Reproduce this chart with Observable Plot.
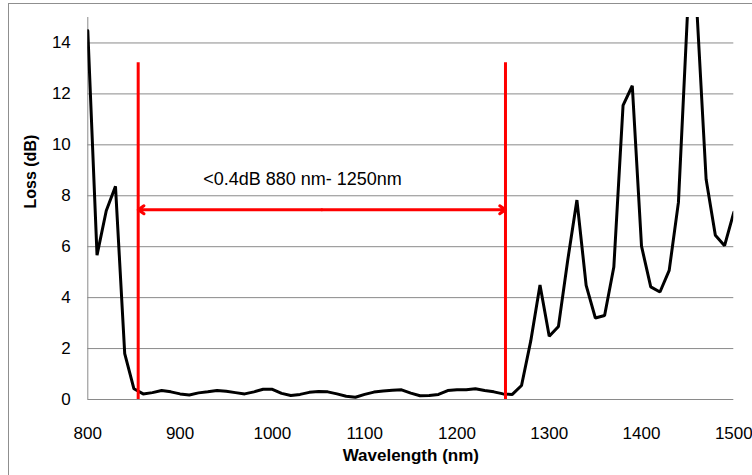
<!DOCTYPE html>
<html>
<head>
<meta charset="utf-8">
<script src="https://cdn.jsdelivr.net/npm/d3@7"></script>
<script src="https://cdn.jsdelivr.net/npm/@observablehq/plot@0.6"></script>
<style>
  html, body { margin: 0; padding: 0; background: #fff; }
  #wrap { position: relative; width: 752px; height: 475px; overflow: hidden; background: #fff; }
  #border { position: absolute; left: 8px; top: 3px; width: 800px; height: 520px; border: 1px solid #8f8f8f; box-sizing: border-box; }
  #chart { position: absolute; left: 0; top: 0; }
</style>
</head>
<body>
<div id="wrap"><div id="border"></div><div id="chart"></div></div>
<script>
const wavelengths = [800, 810, 820, 830, 840, 850, 860, 870, 880, 890,
  900, 910, 920, 930, 940, 950, 960, 970, 980, 990,
  1000, 1010, 1020, 1030, 1040, 1050, 1060, 1070, 1080, 1090,
  1100, 1110, 1120, 1130, 1140, 1150, 1160, 1170, 1180, 1190,
  1200, 1210, 1220, 1230, 1240, 1250, 1260, 1270, 1280, 1290,
  1300, 1310, 1320, 1330, 1340, 1350, 1360, 1370, 1380, 1390,
  1400, 1410, 1420, 1430, 1440, 1450, 1460, 1470, 1480, 1490, 1500];
const loss = [14.48, 5.67, 7.41, 8.37, 1.8, 0.42, 0.22, 0.27, 0.35, 0.3,
  0.22, 0.18, 0.26, 0.3, 0.35, 0.32, 0.27, 0.22, 0.3, 0.4,
  0.4, 0.24, 0.16, 0.2, 0.28, 0.31, 0.3, 0.22, 0.13, 0.09,
  0.2, 0.29, 0.33, 0.36, 0.38, 0.25, 0.15, 0.16, 0.2, 0.35,
  0.38, 0.38, 0.42, 0.35, 0.3, 0.22, 0.2, 0.55, 2.3, 4.5,
  2.48, 2.87, 5.46, 7.83, 4.48, 3.2, 3.3, 5.2, 11.55, 12.32,
  6.02, 4.42, 4.22, 5.07, 7.74, 15.3, 15.3, 8.65, 6.45, 6.04, 7.35];
const xTicks = [800, 900, 1000, 1100, 1200, 1300, 1400, 1500];
const yTicks = [0, 2, 4, 6, 8, 10, 12, 14];
const xLabel = "Wavelength (nm)";
const yLabel = "Loss (dB)";
const bandLimits = [854.6, 1252.6];   // red vertical markers (nm)
const bandTop = 13.22;                // top of red markers (dB)
const arrowLevel = 7.45;              // dB level of double arrow
const annotText = "<0.4dB 880 nm- 1250nm";
const annotPos = [1032.6, 8.63];

const series = wavelengths.map((w, i) => ({w, v: loss[i]}));
const bandMid = (bandLimits[0] + bandLimits[1]) / 2;
const arrows = bandLimits.map(b => ({x1: bandMid, x2: b}));
const grid = "#8a8a8a";

const chart = Plot.plot({
  width: 752,
  height: 475,
  marginLeft: 87.3,
  marginRight: 18.7,
  marginTop: 17,
  marginBottom: 76,
  style: {fontFamily: "'Liberation Sans', Arial, sans-serif", fontSize: "17px", color: "#000", background: "transparent", overflow: "visible"},
  x: {domain: [800, 1500]},
  y: {domain: [0, 15]},
  marks: [
    Plot.ruleY(yTicks.filter(d => d > 0), {stroke: grid, strokeWidth: 1}),
    Plot.ruleY([0], {stroke: grid, strokeWidth: 1}),
    Plot.ruleX([800], {stroke: grid, strokeWidth: 1}),
    Plot.axisX({ticks: xTicks, tickSize: 0, tickPadding: 27, label: null, fontSize: 17, tickFormat: d => String(d)}),
    Plot.axisY({ticks: yTicks, tickSize: 0, tickPadding: 17, label: null, fontSize: 17, tickFormat: d => String(d)}),
    Plot.text([xLabel], {text: d => d, frameAnchor: "bottom", dy: 61, fontWeight: "bold", fontSize: 17, fill: "#000"}),
    Plot.text([yLabel], {text: d => d, frameAnchor: "left", dx: -57, rotate: -90, fontWeight: "bold", fontSize: 16, fill: "#000"}),
    Plot.line(series, {x: "w", y: "v", stroke: "#000", strokeWidth: 3, clip: true, strokeLinejoin: "miter", curve: "linear"}),
    Plot.ruleX(bandLimits, {y1: 0, y2: bandTop, stroke: "#ff0000", strokeWidth: 3}),
    Plot.arrow(arrows, {x1: "x1", x2: "x2", y1: arrowLevel, y2: arrowLevel, stroke: "#ff0000", strokeWidth: 3, headLength: 3.5, headAngle: 70}),
    Plot.text([annotText], {text: d => d, x: annotPos[0], y: annotPos[1], fontSize: 18, fill: "#000"})
  ]
});
document.getElementById("chart").appendChild(chart);
</script>
</body>
</html>
